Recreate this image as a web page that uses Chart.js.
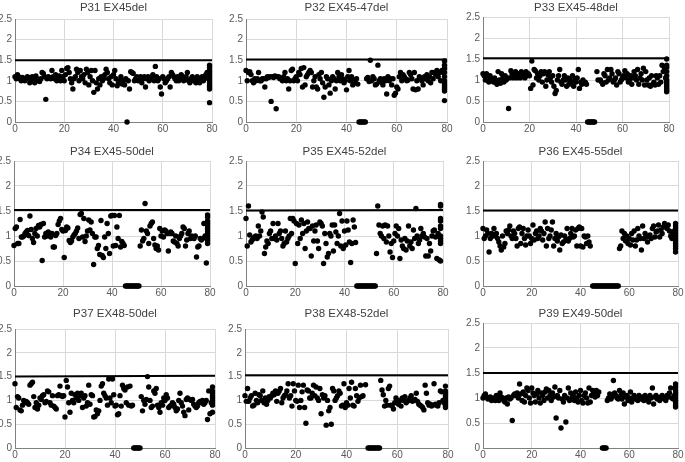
<!DOCTYPE html>
<html><head><meta charset="utf-8">
<script src="https://cdn.jsdelivr.net/npm/chart.js@4.4.1/dist/chart.umd.min.js"></script>
<style>
html,body{margin:0;padding:0;background:#fff;width:685px;height:462px;overflow:hidden;position:relative}
canvas{position:absolute}
</style></head><body>
<script>
// ---- data ----
const titles = ["P31 EX45del","P32 EX45-47del","P33 EX45-48del","P34 EX45-50del","P35 EX45-52del","P36 EX45-55del","P37 EX48-50del","P38 EX48-52del","P39 EX49-50del"];
const xTickLabels = [0,20,40,60,80];
const yTickLabels = [0,0.5,1,1.5,2,2.5];
const STEP = 0.5;      // probe spacing along the exon axis
const STACK_X = 79;    // position of the stacked probes at the last exon

const p31 = [1.1,1.05,1.15,1.1,1.05,1.0,1.08,1.02,1.0,1.05,
 1.1,1.08,0.95,1.0,1.1,1.05,0.95,1.12,1.05,1.0,
 0.98,1.05,1.2,1.18,1.1,0.55,1.05,1.1,1.08,1.05,
 1.25,1.1,1.05,1.15,1.0,1.05,1.12,1.0,1.25,1.1,
 1.0,1.15,1.3,1.32,1.2,1.05,0.95,0.8,1.05,1.1,
 1.28,1.2,1.0,1.25,1.1,1.05,1.15,0.95,1.28,1.2,
 0.9,1.1,1.25,1.0,0.72,1.25,0.95,0.8,1.05,0.9,
 1.1,1.0,1.05,1.15,1.28,1.2,1.05,0.95,1.1,0.9,
 1.15,1.25,1.05,0.88,0.95,1.0,1.1,0.92,1.0,0.9,
 1.05,0,1.0,0.8,1.22,1.2,1.18,1.0,1.05,1.1,
 1.0,1.05,1.1,0.95,1.05,1.1,0.85,1.05,1.1,1.0,
 1.05,1.1,1.15,1.0,1.35,1.1,1.0,1.05,0.85,0.68,
 1.1,1.05,0.95,1.0,1.05,1.1,0.85,1.2,1.15,1.1,
 1.05,1.0,1.1,1.0,1.05,1.15,1.1,1.0,1.05,1.1,
 1.2,1.0,0.95,1.05,1.1,1.0,1.05,0.95,1.1,1.0,
 0.95,1.05,1.1,1.0,1.05,1.15,1.2,1.1];
const s31 = [1.38,1.32,1.25,1.2,1.15,1.1,1.05,1.0,0.95,0.9,0.85,0.8,0.47];

const p32 = [1.25,1.0,1.2,1.22,1.15,1.0,0.95,1.05,1.0,1.05,
 1.2,1.0,1.0,1.05,1.05,0.85,1.05,1.1,1.08,1.1,
 0.5,1.1,1.08,1.12,0.32,1.1,1.1,1.05,1.05,1.0,
 1.1,1.2,1.0,1.05,0.8,1.0,1.25,1.28,1.0,1.05,
 1.1,1.0,1.2,1.15,1.3,0.85,1.32,0.9,1.1,1.15,
 1.2,1.25,1.2,0.85,1.0,1.1,0.85,0.8,1.15,1.05,
 1.2,0.95,0.6,0.85,1.1,1.05,0.9,0.7,1.0,1.1,
 1.05,0.8,1.0,1.2,1.1,1.0,1.15,1.05,0.95,1.0,
 0.78,1.1,1.25,1.0,1.1,0.9,1.0,0.95,1.05,0.92,
 0,0,0,0,0,0,1.05,1.08,0.98,1.5,
 1.0,1.1,1.05,0.9,0.92,1.38,1.0,1.05,0.95,0.9,
 1.05,1.0,0.68,1.1,1.0,1.05,0.9,1.05,0.65,0.7,
 0.85,0.8,1.1,1.2,1.0,1.15,1.1,1.05,1.0,1.02,
 1.2,1.15,1.05,0.8,1.2,0.78,1.0,0.8,1.1,1.05,
 1.0,0.9,1.1,1.05,1.15,1.0,1.1,0.95,1.2,1.05,
 1.2,1.15,1.25,1.1,1.2,1.0,1.25,1.2];
const s32 = [1.48,1.38,1.3,1.2,1.1,1.0,0.95,0.9,0.85,0.8,0.75,0.52];

const p33 = [1.15,1.1,1.0,1.15,1.05,0.95,1.1,1.05,1.0,0.95,
 1.05,0.95,0.9,1.2,1.0,0.92,1.15,1.05,0.95,1.1,
 1.0,1.05,0.32,1.05,1.22,1.15,1.05,1.1,1.2,1.05,
 1.15,1.1,1.05,1.2,1.1,1.15,1.05,1.2,1.1,1.15,
 1.1,0.8,1.45,0.88,1.25,1.22,1.05,1.15,1.0,1.1,
 1.2,0.95,1.15,1.2,0.85,1.0,1.12,1.2,1.05,0.95,
 1.1,0.85,0.68,0.75,1.0,1.1,1.25,0.95,0.9,1.0,
 1.1,1.0,0.85,1.05,0.9,1.0,0.95,1.1,0.85,1.0,
 0.95,1.05,1.25,0.8,0.95,0.9,1.0,0.92,0.95,0.9,
 0,0,0,0,0,0,0,null,1.2,1.0,
 null,1.0,0.95,0.9,1.15,1.1,0.95,1.25,1.0,1.05,
 1.25,1.15,0.95,1.0,1.05,0.88,1.2,1.15,0.95,1.0,
 1.05,1.1,1.22,1.05,1.15,0.95,1.0,1.1,0.9,1.05,
 1.2,1.1,1.0,1.25,0.9,1.05,1.15,1.0,1.28,0.88,
 1.2,1.0,0.88,1.05,0.85,1.1,0.9,0.95,0.88,1.1,
 1.05,0.9,1.1,0.95,1.35,1.2,1.3,1.05];
const s33 = [1.5,1.35,1.3,1.2,1.1,1.0,0.95,0.9,0.85,0.8,0.75,0.72];

const p34 = [0.81,1.15,1.18,0.85,0.85,1.33,0.98,0.98,1.0,1.05,
 1.08,1.11,1.01,1.4,1.13,0.95,0.87,1.05,1.15,1.0,
 1.21,1.18,1.23,0.51,1.25,0.98,1.05,1.0,1.08,1.02,
 0.98,1.05,0.78,0.78,1.01,1.05,1.23,1.3,1.35,1.13,
 1.1,0.57,1.11,1.18,1.16,0.91,0.87,0.9,0.98,1.02,
 1.05,1.1,1.16,0.95,1.43,1.45,0.98,1.35,0.89,1.0,
 1.1,1.32,1.12,1.28,1.05,0.43,0.98,0.98,0.75,0.81,
 0.63,1.31,0.61,0.57,0.98,0.75,1.25,1.05,0.65,1.4,
 1.41,0.8,1.41,0.81,1.18,0.95,1.41,0.78,0.89,0.85,
 0.81,0,0,0,0,0,0,0,0,0,
 0,0,0,0.8,1.12,0.9,0.95,1.65,1.1,1.05,
 0.85,1.2,1.25,1.28,0.95,0.82,0.75,0.8,0.72,1.15,
 1.0,1.1,0.98,1.12,1.1,1.05,0.7,1.05,1.08,1.05,
 0.9,0.88,1.0,0.85,0.8,0.95,1.0,1.05,1.18,1.15,
 0.8,0.92,1.05,1.1,0.95,1.0,0.98,0.95,1.0,0.58,
 0.78,0.8,0.95,0.92,0.95,1.25,1.0,0.46];
const s34 = [1.42,1.38,1.3,1.25,1.2,1.15,1.1,1.05,1.0,0.95,0.9,0.85];

const p35 = [1.35,0.8,1.6,1.02,0.88,0.92,0.95,0.98,1.0,0.95,
 1.2,1.0,1.1,1.48,1.38,0.65,0.78,0.9,0.85,1.05,
 1.1,0.95,1.25,0.95,1.0,0.92,1.25,1.05,1.1,0.95,
 0.8,0.85,1.1,0.88,0.95,1.0,1.35,1.05,1.35,1.3,
 0.45,1.25,0.85,1.22,0.95,1.32,1.05,1.25,0.75,1.1,
 1.28,1.15,1.15,0.6,1.2,0.9,1.1,1.22,0.9,0.75,
 1.28,1.25,1.2,0.45,1.05,0.85,0.58,0.65,1.05,1.0,
 1.22,0.7,1.22,1.08,0.85,1.0,1.45,0.8,1.3,0.75,
 1.1,0.82,1.3,1.12,0.88,0.47,0.85,1.32,1.18,0.87,
 0,0,0,0,0,0,0,0,0,0,
 0,0,0,0,0,0,0.65,1.6,1.22,1.05,
 1.0,1.2,0.95,1.22,0.88,1.2,1.0,0.68,0.85,0.57,
 0.9,1.05,1.2,1.0,1.15,0.55,0.92,0.8,0.75,0.95,
 0.72,0.9,1.2,0.8,0.88,0.75,1.12,0.95,1.55,1.0,
 0.85,0.92,1.15,1.0,1.05,0.98,0.6,0.95,0.6,0.85,
 0.7,1.0,1.1,1.12,0.98,0.55,1.05,0.52];
const s35 = [1.63,1.6,1.35,1.3,1.2,1.15,1.0,0.95,0.9,0.85,0.5];

const p36 = [1.15,0.95,1.0,1.12,1.05,0.68,0.95,1.05,1.0,1.15,
 1.0,1.05,0.95,0.88,0.8,0.72,1.0,0.78,0.85,1.1,
 1.05,1.12,1.2,1.0,0.95,1.1,1.05,0.95,0.8,1.15,
 1.18,0.85,1.05,1.15,0.95,0.82,1.0,1.12,1.0,0.85,
 0.95,1.22,0.92,1.05,1.1,0.95,1.0,1.15,1.1,0.92,
 1.05,1.28,0.8,1.15,0.95,1.0,1.12,1.28,0.8,0.95,
 1.05,0.9,0.98,0.72,1.02,0.85,0.88,1.0,0.92,1.15,
 0.9,0.95,1.05,1.15,0.98,1.0,1.12,0.8,1.15,1.18,
 0.8,1.15,0.78,1.0,0.98,0.85,1.0,0.88,0.8,null,
 0,0,0,0,0,0,0,0,0,0,
 0,0,0,0,0,0,0,0,0,0,
 0,0,0.75,0.8,1.1,0.95,1.05,0.9,1.0,0.85,
 0.95,0.82,1.05,0.92,1.1,0.8,0.92,1.15,1.0,0.95,
 0.72,1.2,0.95,1.05,0.98,0.88,1.0,1.02,0.95,1.15,
 1.2,0.98,1.08,1.1,1.22,0.98,1.12,1.05,1.18,1.25,
 1.2,1.15,1.22,1.1,1.0,0.95,1.05,1.1];
const s36 = [1.25,1.2,1.15,1.1,1.05,1.0,0.95,0.9,0.85,0.8,0.75,0.68];

const p37 = [1.35,0.85,1.08,1.05,0.8,0.78,0.9,1.0,0.95,0.98,
 0.95,0.92,1.32,1.35,1.38,1.08,0.85,0.95,0.82,0.9,
 1.05,1.02,1.1,1.12,0.95,0.98,1.2,1.18,0.95,0.9,
 1.1,0.88,0.85,0.82,1.1,1.12,1.3,1.1,1.08,1.1,
 0.65,1.42,1.28,0.95,0.75,1.15,1.0,0.95,1.12,1.05,
 1.15,1.0,1.1,1.15,0.85,1.05,1.1,0.88,0.95,1.32,
 0.92,1.12,1.1,0.65,0.66,0.8,0.72,0.78,1.0,1.3,
 1.35,1.15,1.1,1.05,0.9,1.45,1.05,0.95,1.45,1.12,
 0.88,0.9,0.7,0.72,1.1,0.88,1.32,1.25,1.22,0.95,
 1.28,0.9,1.3,0.88,0.9,0,0,0,0,0,
 0,1.08,0.78,1.0,0.92,1.02,1.5,1.28,1.0,0.85,
 0.88,1.2,1.15,1.25,0.9,0.85,0.75,0.95,0.9,1.05,
 1.0,1.12,1.05,0.85,0.88,0.9,0.95,0.92,0.85,0.78,
 0.82,1.0,1.15,0.95,0.88,0.75,0.68,1.02,1.05,0.8,
 1.02,1.0,1.02,0.92,0.88,0.85,0.88,0.95,0.98,0.95,
 1.0,0.92,0.95,1.0,0.6,1.2,0.72,0.95];
const s37 = [1.28,1.2,1.15,1.1,1.05,1.0,0.95,0.9,0.75];

const p38 = [1.1,0.98,1.25,0.98,1.05,1.1,0.88,0.9,1.15,1.0,
 0.95,1.12,1.1,1.0,1.2,0.95,1.05,0.92,1.0,1.08,
 1.05,1.1,1.15,1.12,1.2,0.98,1.15,1.2,1.25,0.95,
 1.05,1.1,1.12,1.2,1.35,1.05,1.1,0.88,1.35,1.2,
 1.0,0.98,1.32,0.85,1.0,1.18,1.32,0.85,0.52,1.22,
 1.2,1.05,1.05,1.15,1.32,1.1,1.28,1.05,1.0,1.25,
 0.72,1.12,1.05,1.1,0.48,1.0,0.78,0.85,0.5,1.25,
 1.2,1.0,1.05,1.1,1.2,1.15,0.88,0.9,1.35,0.85,
 0.95,0.9,1.25,1.05,1.38,0.9,0.88,1.25,1.1,0.98,
 1.05,1.32,1.08,1.1,null,1.33,null,0,0,0,
 0,0,0,0,0,0,0,1.42,1.22,1.12,
 0.88,1.0,0.9,1.25,1.3,0.9,0.88,0.82,0.95,1.05,
 0.98,0.92,1.0,0.88,1.05,1.0,1.08,0.95,0.98,1.0,
 1.05,1.1,0.98,1.0,1.02,1.15,0.98,0.92,0.9,0.88,
 0.85,0.8,1.32,1.15,0.95,0.9,0.92,0.88,0.9,1.35,
 0.92,0.9,0.88,0.95,1.2,1.18,1.0,0.95];
const s38 = [1.3,1.2,1.15,1.1,1.05,1.0,0.95,0.9,0.85];

const p39 = [1.0,1.05,1.08,1.02,0.98,1.0,1.02,0.95,0.98,1.0,
 0.95,1.05,0.98,0.95,1.1,1.02,1.0,0.95,0.92,1.0,
 0.88,1.02,0.98,1.0,0.55,1.05,1.08,1.05,1.1,1.0,
 1.28,1.08,0.95,1.12,0.92,1.05,1.2,1.15,1.0,0.9,
 1.2,1.1,1.05,0.92,1.08,1.15,1.0,0.9,1.1,1.05,
 0.95,1.12,1.18,1.0,1.15,1.05,0.95,1.1,1.02,1.22,
 0.6,1.05,1.0,1.15,0.4,0.98,0.92,1.05,0.52,1.0,
 1.2,0.95,1.1,1.0,1.05,0.95,1.12,1.0,0.92,1.05,
 1.15,0.95,0.9,1.05,1.1,1.0,0.9,1.2,0.92,1.05,
 1.15,1.1,1.02,1.15,1.05,1.12,null,null,0,0,
 0,0,0.95,1.0,1.08,0.98,1.02,1.35,1.1,1.05,
 1.0,0.98,1.15,1.05,0.98,1.1,0.88,1.02,1.05,0.95,
 1.0,1.12,0.92,1.0,1.05,0.98,1.0,0.95,1.05,1.0,
 0.98,1.02,0.95,1.05,1.0,0.98,0.92,1.05,1.0,1.2,
 0.88,1.02,1.05,0.98,1.0,0.95,1.02,1.05,1.0,0.98,
 0.95,1.05,1.02,1.1,1.2,1.0,0.98,1.05];
const s39 = [1.28,1.22,1.15,1.1,1.05,1.0,0.95,0.9,0.85,0.82];

// cut-off line (value at x=0 and x=80)
const cutoffs = [[1.5,1.5],[1.52,1.52],[1.52,1.52],[1.52,1.52],[1.51,1.52],[1.51,1.51],[1.5,1.52],[1.53,1.53],[1.5,1.5]];

const series = [p31,p32,p33,p34,p35,p36,p37,p38,p39];
const stacks = [s31,s32,s33,s34,s35,s36,s37,s38,s39];

// ---- layout (plot area left, top, right, bottom, title centre y) ----
const boxes = [
 [15,19,212,122,8],[246,19,447,122,8],[483,17,669,122,8],
 [14,161,210,286,152],[246,161,443,286,152],[483,161,678,286,152],
 [15,329,215,448,314],[245,329,448,448,314],[483,323,678,448,314]
];
const YW = 22, XH = 16, RP = 10, TFS = 11.5;
const FONT = '"Liberation Sans", Arial, sans-serif';

boxes.forEach((b, k) => {
  const [L, T, R, B, ty] = b;
  const top = Math.round(ty - TFS * 0.6);
  const left = L - YW;
  const w = YW + (R - L) + RP;
  const h = (B - top) + XH;
  const cv = document.createElement('canvas');
  cv.width = w; cv.height = h;
  cv.style.left = left + 'px'; cv.style.top = top + 'px';
  cv.style.width = w + 'px'; cv.style.height = h + 'px';
  document.body.appendChild(cv);

  const pts = [];
  series[k].forEach((v, i) => { if (v !== null) pts.push({x: i * STEP, y: v}); });
  stacks[k].forEach(v => pts.push({x: STACK_X, y: v}));

  new Chart(cv, {
    type: 'scatter',
    data: {
      datasets: [
        {type: 'line', data: [{x: xTickLabels[0], y: cutoffs[k][0]}, {x: xTickLabels[xTickLabels.length-1], y: cutoffs[k][1]}],
         borderColor: '#000', borderWidth: 2, pointRadius: 0, fill: false, order: 2},
        {data: pts, backgroundColor: '#000', borderWidth: 0, pointRadius: 2.7, clip: false, order: 1}
      ]
    },
    options: {
      responsive: false, animation: false, devicePixelRatio: 1,
      layout: {padding: {left: 0, right: RP, top: 0, bottom: 0}},
      plugins: {
        legend: {display: false}, tooltip: {enabled: false},
        title: {display: true, text: titles[k], fullSize: false, color: '#404040',
          font: {family: FONT, size: TFS, weight: 'normal', lineHeight: 1.2},
          padding: {top: 0, bottom: (T - top) - TFS * 1.2}}
      },
      scales: {
        x: {type: 'linear', min: 0, max: 80,
          afterFit: s => { s.height = XH; },
          afterBuildTicks: s => { s.ticks = xTickLabels.map(v => ({value: v})); },
          ticks: {padding: 1, color: '#595959', font: {family: FONT, size: 10}, maxRotation: 0,
            callback: v => String(v)},
          grid: {color: '#d9d9d9', lineWidth: 1, drawTicks: false},
          border: {color: '#808080', width: 1}},
        y: {type: 'linear', min: 0, max: 2.5,
          afterFit: s => { s.width = YW; },
          afterBuildTicks: s => { s.ticks = yTickLabels.map(v => ({value: v})); },
          ticks: {padding: 3, color: '#595959', font: {family: FONT, size: 10},
            callback: v => String(v)},
          grid: {color: '#d9d9d9', lineWidth: 1, drawTicks: false},
          border: {color: '#808080', width: 1}}
      }
    }
  });
});
</script>
</body></html>
